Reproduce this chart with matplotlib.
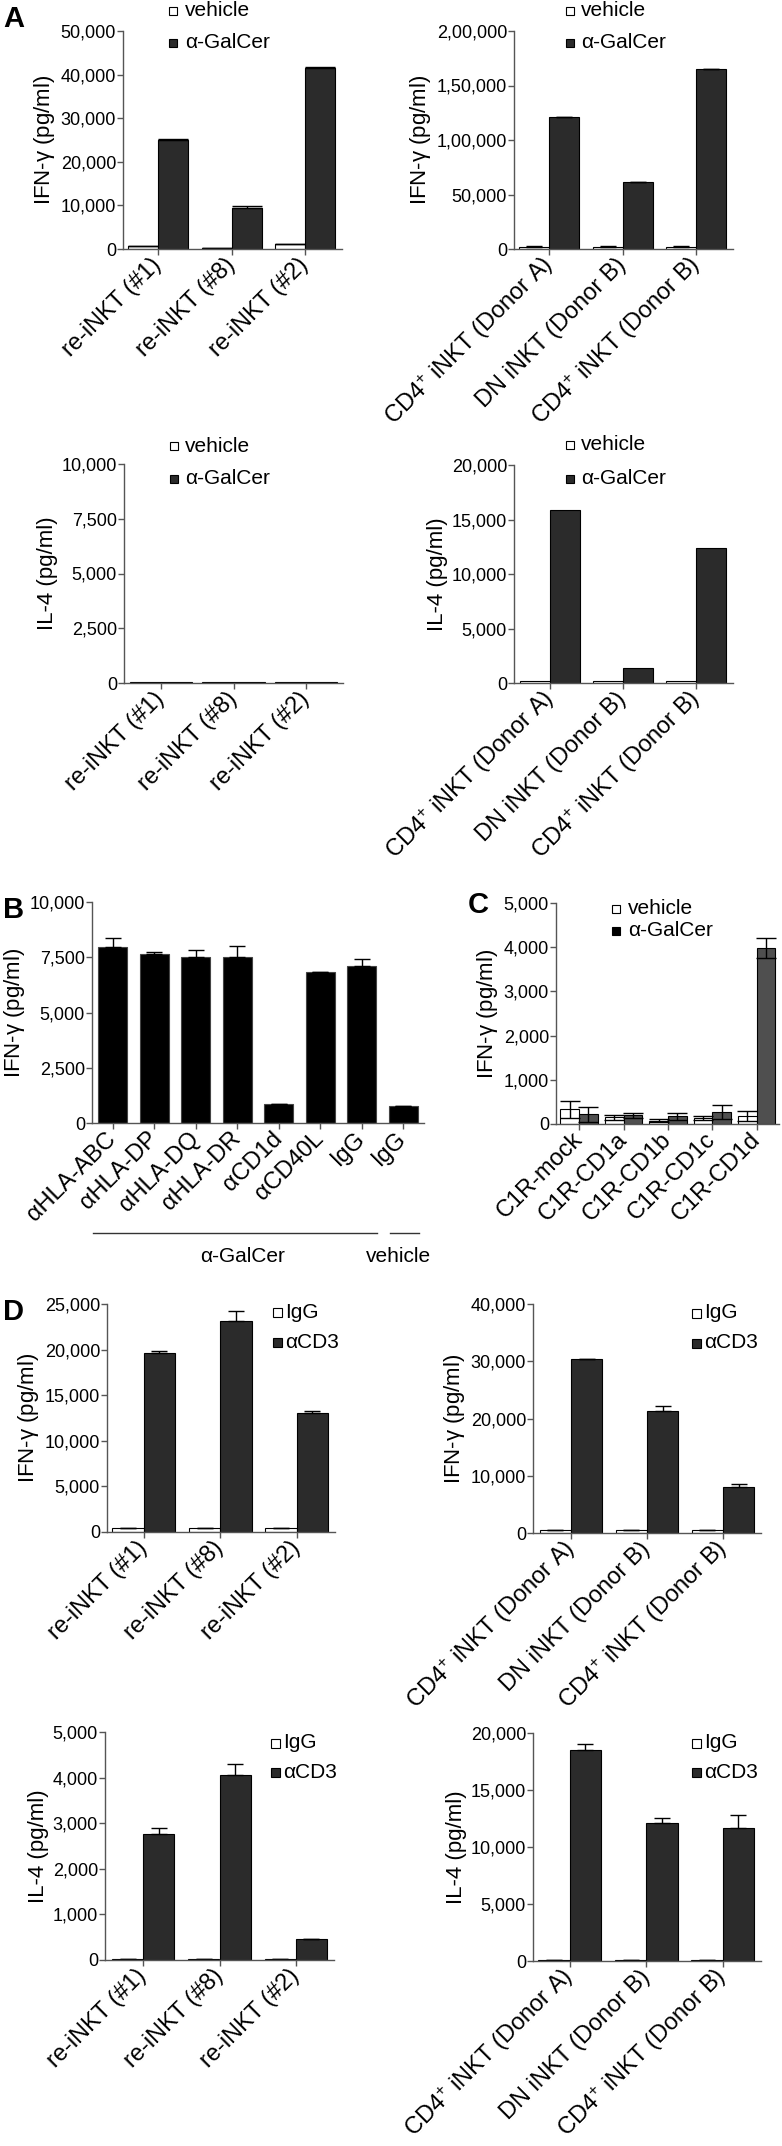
import numpy as np
import matplotlib.pyplot as plt
from matplotlib.patches import Rectangle
from matplotlib.lines import Line2D

plt.rcParams['font.family'] = ['Liberation Sans', 'DejaVu Sans']
plt.rcParams['mathtext.fontset'] = 'custom'
plt.rcParams['mathtext.rm'] = 'Liberation Sans'
plt.rcParams['mathtext.it'] = 'Liberation Sans:italic'

W, H = 782, 2146

# ---- data ----
reinkt = ['re-iNKT (#1)', 're-iNKT (#8)', 're-iNKT (#2)']
donors = ['CD4$^{+}$ iNKT (Donor A)', 'DN iNKT (Donor B)', 'CD4$^{+}$ iNKT (Donor B)']

# A: IFN-g / IL-4, vehicle vs a-GalCer
a1_veh = [760, 230, 1070]
a1_gal = [25100, 9500, 41500]
a1_gal_err = [200, 250, 300]

a2_veh = [1500, 1500, 1500]
a2_veh_err = [1200, 1200, 1200]
a2_gal = [120700, 61600, 165200]

a3_veh = [30, 30, 30]
a3_gal = [50, 50, 50]

a4_veh = [150, 150, 150]
a4_gal = [15850, 1340, 12400]

# B: blocking antibodies
b_labels = ['αHLA-ABC', 'αHLA-DP', 'αHLA-DQ', 'αHLA-DR', 'αCD1d', 'αCD40L', 'IgG', 'IgG']
b_vals = [7970, 7640, 7520, 7520, 860, 6840, 7125, 780]
b_err = [380, 120, 320, 470, 0, 0, 290, 0]

# C: C1R transfectants
c_labels = ['C1R-mock', 'C1R-CD1a', 'C1R-CD1b', 'C1R-CD1c', 'C1R-CD1d']
c_veh = [330, 150, 75, 135, 180]
c_veh_err = [200, 55, 35, 45, 105]
c_gal = [215, 200, 170, 265, 3975]
c_gal_err = [170, 55, 75, 160, 230]

# D: IgG vs aCD3
d1_igg = [480, 480, 480]
d1_cd3 = [19650, 23100, 13030]
d1_err = [250, 1130, 250]

d2_igg = [470, 470, 470]
d2_cd3 = [30370, 21370, 8060]
d2_err = [0, 820, 580]

d3_igg = [30, 30, 30]
d3_cd3 = [2760, 4050, 450]
d3_err = [125, 255, 15]

d4_igg = [120, 120, 120]
d4_cd3 = [18480, 12090, 11680]
d4_err = [555, 440, 1140]

DARK = '#2b2b2b'
SPINE = '#555555'
FS_X = 17     # rotated category labels
FS_Y = 13     # y tick labels
FS_LAB = 16   # axis titles
FS_LEG = 15

fig = plt.figure(figsize=(W / 100, H / 100), dpi=100)


def make_ax(l, t, r, b):
    ax = fig.add_axes([l / W, 1 - b / H, (r - l) / W, (b - t) / H])
    for s in ['top', 'right']:
        ax.spines[s].set_visible(False)
    for s in ['left', 'bottom']:
        ax.spines[s].set_color(SPINE)
        ax.spines[s].set_linewidth(1.0)
    ax.tick_params(direction='out', length=4, width=1, color=SPINE, labelsize=FS_Y)
    ax.tick_params(axis='y', pad=1)
    ax.tick_params(axis='x', pad=5)
    return ax


def grouped(ax, v1, v2, e1, e2, c2, w=0.41, cap=6, both=False):
    x = np.arange(len(v1))
    z = np.zeros(len(v1))
    ek = dict(ecolor='black', elinewidth=1, capthick=1)
    y1 = np.array(e1) if both else [z, e1]
    y2 = np.array(e2) if both else [z, e2]
    ax.bar(x - w / 2, v1, w, color='white', edgecolor='black', linewidth=0.8,
           yerr=y1, capsize=cap, error_kw=ek)
    ax.bar(x + w / 2, v2, w, color=c2, edgecolor='black', linewidth=0.8,
           yerr=y2, capsize=cap, error_kw=ek)
    return x


def xlabels(ax, x, labels, fs=FS_X):
    ax.set_xticks(x)
    ax.set_xticklabels(labels, rotation=45, ha='right', va='center',
                       rotation_mode='anchor', fontsize=fs)


def yaxis(ax, ticks, labels, ylabel, pad=3):
    ax.set_ylim(0, ticks[-1])
    ax.set_yticks(ticks)
    ax.set_yticklabels(labels)
    ax.set_ylabel(ylabel, fontsize=FS_LAB, labelpad=pad)


def legend_px(xs, xt, ys, labels, colors, size=8, fs=FS_LEG):
    for y, lab, c in zip(ys, labels, colors):
        fig.patches.append(Rectangle(((xs - size / 2) / W, 1 - (y + size / 2) / H),
                                     size / W, size / H, transform=fig.transFigure,
                                     facecolor=c, edgecolor='black', linewidth=0.8))
        fig.text(xt / W, 1 - y / H, lab, fontsize=fs, va='center', ha='left')


def letter(x, y, s):
    fig.text(x / W, 1 - y / H, s, fontsize=21, fontweight='bold', ha='center', va='center')


IFN = 'IFN-$\\mathregular{\\gamma}$ (pg/ml)'
IL4 = 'IL-4 (pg/ml)'
zero = [0, 0, 0]

# ---- panel A ----
ax = make_ax(123, 31, 342, 249)
x = grouped(ax, a1_veh, a1_gal, zero, a1_gal_err, DARK, cap=11)
ax.set_xlim(-0.48, 2.5)
yaxis(ax, [0, 10000, 20000, 30000, 40000, 50000],
      ['0', '10,000', '20,000', '30,000', '40,000', '50,000'], IFN)
xlabels(ax, x, reinkt)
legend_px(173, 185, [11, 43], ['vehicle', 'α-GalCer'], ['white', DARK])

ax = make_ax(514, 31, 733, 249)
x = grouped(ax, a2_veh, a2_gal, a2_veh_err, zero, DARK, cap=6)
ax.set_xlim(-0.48, 2.5)
yaxis(ax, [0, 50000, 100000, 150000, 200000],
      ['0', '50,000', '1,00,000', '1,50,000', '2,00,000'], IFN)
xlabels(ax, x, donors)
legend_px(570, 581, [11, 43], ['vehicle', 'α-GalCer'], ['white', DARK])

ax = make_ax(124, 464, 343, 683)
x = grouped(ax, a3_veh, a3_gal, zero, zero, DARK, w=0.43, cap=0)
ax.set_xlim(-0.51, 2.51)
yaxis(ax, [0, 2500, 5000, 7500, 10000],
      ['0', '2,500', '5,000', '7,500', '10,000'], IL4)
xlabels(ax, x, reinkt)
legend_px(174, 185, [446, 479], ['vehicle', 'α-GalCer'], ['white', DARK])

ax = make_ax(514, 465, 733, 683)
x = grouped(ax, a4_veh, a4_gal, zero, zero, DARK, cap=0)
ax.set_xlim(-0.49, 2.5)
yaxis(ax, [0, 5000, 10000, 15000, 20000],
      ['0', '5,000', '10,000', '15,000', '20,000'], IL4)
xlabels(ax, x, donors)
legend_px(570, 581, [445, 479], ['vehicle', 'α-GalCer'], ['white', DARK])

letter(14, 19, 'A')

# ---- panel B ----
ax = make_ax(92, 902, 424, 1123)
xb = np.arange(len(b_vals))
ax.bar(xb, b_vals, 0.7, color='black', edgecolor='#444444', linewidth=0.8,
       yerr=[np.zeros(len(b_err)), b_err], capsize=6,
       error_kw=dict(ecolor='black', elinewidth=1, capthick=1))
ax.set_xlim(-0.5, 7.5)
yaxis(ax, [0, 2500, 5000, 7500, 10000],
      ['0', '2,500', '5,000', '7,500', '10,000'], IFN, pad=2)
xlabels(ax, xb, b_labels)
fig.add_artist(Line2D([93 / W, 377 / W], [1 - 1233 / H] * 2, color='#333333', lw=1))
fig.add_artist(Line2D([390 / W, 419 / W], [1 - 1233 / H] * 2, color='#333333', lw=1))
fig.text(243 / W, 1 - 1257 / H, 'α-GalCer', fontsize=FS_LEG, ha='center', va='center')
fig.text(398 / W, 1 - 1257 / H, 'vehicle', fontsize=FS_LEG, ha='center', va='center')
letter(14, 910, 'B')

# ---- panel C ----
ax = make_ax(556, 903, 779, 1124)
x = grouped(ax, c_veh, c_gal, c_veh_err, c_gal_err, '#4f4f4f', w=0.42, cap=7, both=True)
ax.set_xlim(-0.52, 4.5)
yaxis(ax, [0, 1000, 2000, 3000, 4000, 5000],
      ['0', '1,000', '2,000', '3,000', '4,000', '5,000'], IFN)
xlabels(ax, x, c_labels)
legend_px(616, 628, [909, 931], ['vehicle', 'α-GalCer'], ['white', 'black'])
letter(478, 905, 'C')

# ---- panel D ----
ax = make_ax(107, 1304, 335, 1532)
x = grouped(ax, d1_igg, d1_cd3, zero, d1_err, DARK)
ax.set_xlim(-0.48, 2.5)
yaxis(ax, [0, 5000, 10000, 15000, 20000, 25000],
      ['0', '5,000', '10,000', '15,000', '20,000', '25,000'], IFN)
xlabels(ax, x, reinkt)
legend_px(277, 285, [1312, 1342], ['IgG', 'αCD3'], ['white', DARK], size=9)

ax = make_ax(533, 1304, 761, 1533)
x = grouped(ax, d2_igg, d2_cd3, zero, d2_err, DARK)
ax.set_xlim(-0.5, 2.5)
yaxis(ax, [0, 10000, 20000, 30000, 40000],
      ['0', '10,000', '20,000', '30,000', '40,000'], IFN)
xlabels(ax, x, donors)
legend_px(696, 704, [1313, 1343], ['IgG', 'αCD3'], ['white', DARK], size=9)

ax = make_ax(105, 1732, 334, 1960)
x = grouped(ax, d3_igg, d3_cd3, zero, d3_err, DARK)
ax.set_xlim(-0.5, 2.5)
yaxis(ax, [0, 1000, 2000, 3000, 4000, 5000],
      ['0', '1,000', '2,000', '3,000', '4,000', '5,000'], IL4)
xlabels(ax, x, reinkt)
legend_px(275, 283, [1743, 1772], ['IgG', 'αCD3'], ['white', DARK], size=9)

ax = make_ax(533, 1733, 761, 1961)
x = grouped(ax, d4_igg, d4_cd3, zero, d4_err, DARK)
ax.set_xlim(-0.48, 2.5)
yaxis(ax, [0, 5000, 10000, 15000, 20000],
      ['0', '5,000', '10,000', '15,000', '20,000'], IL4)
xlabels(ax, x, donors)
legend_px(696, 704, [1743, 1772], ['IgG', 'αCD3'], ['white', DARK], size=9)

letter(13, 1312, 'D')

fig.savefig('out.png', dpi=100)
